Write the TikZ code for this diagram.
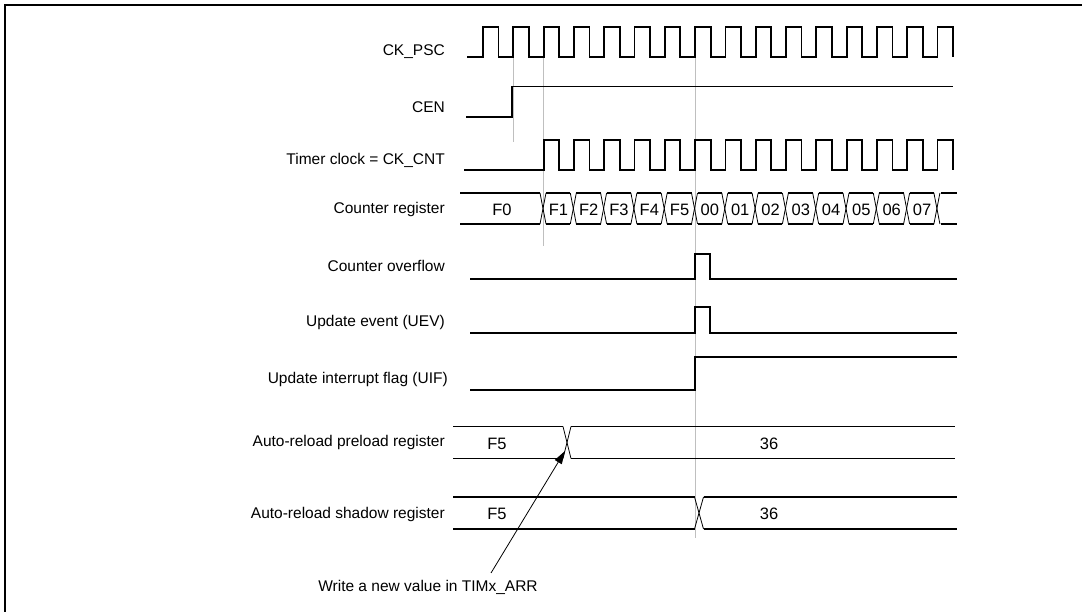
\documentclass[tikz,border=0pt]{standalone}
\usepackage{fontspec}
\setmainfont{Liberation Sans}
\usetikzlibrary{arrows.meta}
\begin{document}
\begin{tikzpicture}[x=1pt,y=-1pt,
  wave/.style={line width=1.8pt, line join=miter, line cap=butt},
  busline/.style={line width=1.8pt},
  busx/.style={line width=0.8pt},
  guide/.style={line width=0.7pt, draw=black!25},
  lbl/.style={anchor=base east, inner sep=0pt, font=\fontsize{15.5}{18}\selectfont},
  val/.style={anchor=base, inner sep=0pt, font=\fontsize{16.5}{19}\selectfont},
  note/.style={anchor=base, inner sep=0pt, font=\fontsize{15.5}{18}\selectfont},
  frame/.style={line width=2pt}]
\useasboundingbox (0,0) rectangle (1082,612);
\fill[white] (0,0) rectangle (1082,612);
\draw[frame] (1082,5) -- (5,5) -- (5,612);

% guide lines
\draw[guide] (513,57) -- (513,142);
\draw[guide] (543,57) -- (543,246);
\draw[guide] (695,57) -- (695,538);

% labels
\node[lbl] (lpsc) at (445,56) {CK\_PSC};
\node[lbl] (lcen) at (445,113) {CEN};
\node[lbl] (lcnt) at (445,165) {Timer clock = CK\_CNT};
\node[lbl] (lreg) at (445,214) {Counter register};
\node[lbl] (lovf) at (445,272) {Counter overflow};
\node[lbl] (luev) at (445,327) {Update event (UEV)};
\node[lbl] (luif) at (448,383) {Update interrupt flag (UIF)};
\node[lbl] (lpre) at (445,446) {Auto-reload preload register};
\node[lbl] (lsha) at (445,518) {Auto-reload shadow register};

% CK_PSC
\draw[wave] (467,57)
  \foreach \k in {0,...,14} { -- ({483+30.3*\k},57) -- ({483+30.3*\k},27) -- ({498.5+30.3*\k},27) -- ({498.5+30.3*\k},57) }
  -- (937.5,57) -- (937.5,27) -- (953,27) -- (953,57);

% CEN
\draw[wave] (466,117) -- (512,117) -- (512,86.5) -- (953,86.5);

% CK_CNT
\draw[wave] (464,170)
  \foreach \k in {2,...,14} { -- ({483+30.3*\k},170) -- ({483+30.3*\k},140) -- ({498.5+30.3*\k},140) -- ({498.5+30.3*\k},170) }
  -- (937.5,170) -- (937.5,140) -- (953,140) -- (953,170);

% Counter register bus
\draw[busline] (460,193) -- (540,193);
\draw[busline] (460,224) -- (540,224);
\foreach \j in {0,...,12} {
  \draw[busline] ({546+30.3*\j},193) -- ({570.3+30.3*\j},193);
  \draw[busline] ({546+30.3*\j},224) -- ({570.3+30.3*\j},224);
}
\draw[busline] (940.9,193) -- (957,193);
\draw[busline] (940.9,224) -- (957,224);
\foreach \j in {0,...,13} {
  \draw[busx] ({540+30.3*\j},193) -- ({546+30.3*\j},224);
  \draw[busx] ({540+30.3*\j},224) -- ({546+30.3*\j},193);
}
\node[val] (v0) at (502,216) {F0};
\foreach \t [count=\i from 0] in {F1,F2,F3,F4,F5,00,01,02,03,04,05,06,07} {
  \node[val] (v\t) at ({558.4+30.3*\i},216) {\t};
}

% Counter overflow
\draw[wave] (470,279) -- (695,279) -- (695,254) -- (710,254) -- (710,279) -- (957,279);
% UEV
\draw[wave] (470,333) -- (695,333) -- (695,307) -- (710,307) -- (710,333) -- (957,333);
% UIF
\draw[wave] (470,390) -- (695,390) -- (695,357) -- (957,357);

% Auto-reload preload
\draw[busline] (453,426.5) -- (563,426.5);
\draw[busline] (453,458.5) -- (563,458.5);
\draw[busline] (571,426.5) -- (955,426.5);
\draw[busline] (571,458.5) -- (955,458.5);
\draw[busx] (563,426.5) -- (571,458.5);
\draw[busx] (563,458.5) -- (571,426.5);
\node[val] (pf5) at (497,449) {F5};
\node[val] (p36) at (769,449) {36};

% Auto-reload shadow
\draw[busline] (453,497) -- (694.5,497);
\draw[busline] (453,529) -- (694.5,529);
\draw[busline] (703.5,497) -- (957,497);
\draw[busline] (703.5,529) -- (957,529);
\draw[busx] (694.5,497) -- (703.5,529);
\draw[busx] (694.5,529) -- (703.5,497);
\node[val] (sf5) at (497,519) {F5};
\node[val] (s36) at (769,519) {36};

% annotation
\node[note] (wtxt) at (428,591) {Write a new value in TIMx\_ARR};
\coordinate (wstart) at (491,573);
\coordinate (wtip) at (565,451);
\draw[line width=0.8pt, -{Triangle[length=13pt,width=8pt]}] (wstart) -- (wtip);
\end{tikzpicture}
\end{document}
